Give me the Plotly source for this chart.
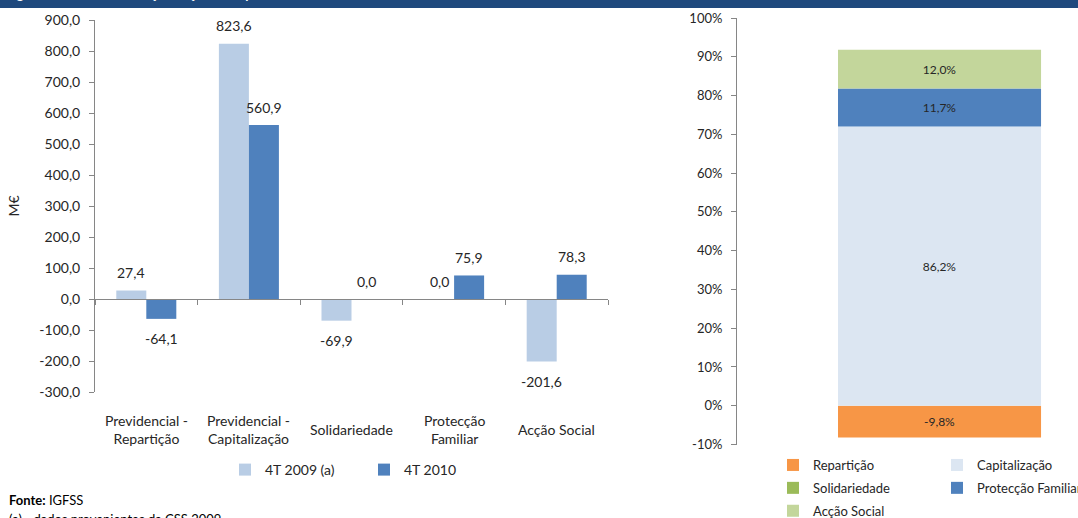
import plotly.graph_objects as go

# ---------------- data ----------------
categories = ["Previdencial - Repartição", "Previdencial - Capitalização",
              "Solidariedade", "Protecção Familiar", "Acção Social"]
category_labels = ["Previdencial -<br>Repartição", "Previdencial -<br>Capitalização",
                   "Solidariedade", "Protecção<br>Familiar", "Acção Social"]
series_names = ["4T 2009 (a)", "4T 2010"]
saldo_4t2009 = [27.4, 823.6, -69.9, 0.0, -201.6]
saldo_4t2010 = [-64.1, 560.9, 0.0, 75.9, 78.3]
left_tickvals = [-300, -200, -100, 0, 100, 200, 300, 400, 500, 600, 700, 800, 900]
left_ticktext = ["-300,0", "-200,0", "-100,0", "0,0", "100,0", "200,0", "300,0",
                 "400,0", "500,0", "600,0", "700,0", "800,0", "900,0"]

struct_names = ["Repartição", "Capitalização", "Solidariedade", "Protecção Familiar", "Acção Social"]
struct_values = [-9.8, 86.2, 0.0, 11.7, 12.0]
struct_colors = ["#F79646", "#DCE6F2", "#9BBB59", "#4F81BD", "#C3D69B"]
struct_legend = ["legend2", "legend3", "legend2", "legend3", "legend2"]
right_tickvals = [-10, 0, 10, 20, 30, 40, 50, 60, 70, 80, 90, 100]
right_ticktext = ["-10%", "0%", "10%", "20%", "30%", "40%", "50%", "60%",
                  "70%", "80%", "90%", "100%"]

FONT = "Lato"
TXT = "#262626"
AX = "#868686"
W, H = 1078, 518


def fmt(v):
    return f"{v:.1f}".replace(".", ",")


fig = go.Figure()

# ---------------- left chart: grouped bars ----------------
for name, vals, col in [(series_names[0], saldo_4t2009, "#B9CDE5"),
                        (series_names[1], saldo_4t2010, "#4F81BD")]:
    fig.add_trace(go.Bar(x=categories, y=vals, name=name, marker_color=col,
                         marker_line_width=0, xaxis="x", yaxis="y",
                         legend="legend", hoverinfo="x+y"))

annotations = []
for vals, xs in [(saldo_4t2009, -15), (saldo_4t2010, 15)]:
    for c, v in zip(categories, vals):
        annotations.append(dict(x=c, y=v, xref="x", yref="y", text=fmt(v),
                                showarrow=False, xshift=xs,
                                yshift=18 if v >= 0 else -20,
                                yanchor="middle",
                                font=dict(family=FONT, size=14, color=TXT)))

for c, lab in zip(categories, category_labels):
    annotations.append(dict(x=c, y=1 - 429 / H, xref="x", yref="paper", text=lab,
                            showarrow=False, yanchor="middle",
                            font=dict(family=FONT, size=14, color=TXT)))

# ---------------- right chart: 100% stacked structure ----------------
total_abs = sum(abs(v) for v in struct_values)
pos_base, neg_base = 0.0, 0.0
for name, v, col, lg in zip(struct_names, struct_values, struct_colors, struct_legend):
    h = v / total_abs * 100
    if h >= 0:
        b = pos_base
        pos_base += h
    else:
        b = neg_base
        neg_base += h
    fig.add_trace(go.Bar(x=[0], y=[h], base=[b], width=[1], offsetgroup="struct",
                         name=name, marker_color=col, marker_line_width=0,
                         text=[fmt(v) + "%" if v != 0 else ""],
                         textposition="inside", insidetextanchor="middle",
                         textangle=0, constraintext="none",
                         textfont=dict(family=FONT, size=12, color=TXT),
                         xaxis="x2", yaxis="y2", legend=lg, legendgroup=name))

# footer / header texts
annotations.append(dict(x=7 / W, y=1 - 500 / H, xref="paper", yref="paper",
                        xanchor="left", yanchor="middle", showarrow=False,
                        text="<b>Fonte:</b> IGFSS",
                        font=dict(family=FONT, size=13, color="#000000")))
annotations.append(dict(x=7 / W, y=1 - 519 / H, xref="paper", yref="paper",
                        xanchor="left", yanchor="middle", showarrow=False,
                        text="(a) - dados provenientes da CSS 2009",
                        font=dict(family=FONT, size=13, color="#000000")))
annotations.append(dict(x=4 / W, y=1 - 4 / H, xref="paper", yref="paper",
                        xanchor="left", yanchor="bottom", showarrow=False,
                        text="<b>Figura 3 - Saldo de Execução Orçamental por Subsistema</b>",
                        font=dict(family=FONT, size=13, color="#FFFFFF")))

fig.update_layout(
    width=W, height=H, autosize=False,
    margin=dict(l=0, r=0, t=0, b=0, pad=0, autoexpand=False),
    paper_bgcolor="white", plot_bgcolor="white",
    font=dict(family=FONT, color=TXT),
    barmode="group", bargap=0.415, bargroupgap=0,
    showlegend=True,
    xaxis=dict(domain=[95 / W, 608 / W], type="category", anchor="free",
               position=1 - 299 / H, range=[-0.5, 4.5],
               showline=True, linecolor=AX, linewidth=1,
               ticks="outside", tickson="boundaries", ticklen=5, tickcolor=AX,
               showticklabels=False, showgrid=False, zeroline=False),
    yaxis=dict(domain=[1 - 392 / H, 1 - 20 / H], range=[-300, 900], anchor="x",
               tickvals=left_tickvals, ticktext=left_ticktext,
               showline=True, linecolor=AX, linewidth=1,
               ticks="outside", ticklen=5, tickcolor=AX, ticklabelstandoff=6,
               showgrid=False, zeroline=False,
               tickfont=dict(family=FONT, size=14, color=TXT),
               title=dict(text="M€", standoff=16,
                          font=dict(family=FONT, size=14, color=TXT))),
    xaxis2=dict(domain=[737 / W, 1.0], range=[-0.9975, 0.682], anchor="y2",
                visible=False, showgrid=False, zeroline=False),
    yaxis2=dict(domain=[1 - 444.5 / H, 1 - 18 / H], range=[-10, 100], anchor="x2",
                tickvals=right_tickvals, ticktext=right_ticktext,
                showline=True, linecolor=AX, linewidth=1,
                ticks="outside", ticklen=5, tickcolor=AX, ticklabelstandoff=6,
                showgrid=False, zeroline=False,
                tickfont=dict(family=FONT, size=13, color=TXT)),
    legend=dict(orientation="h", x=225 / W, y=1 - 470 / H, xanchor="left",
                yanchor="middle", entrywidth=94, entrywidthmode="pixels",
                bgcolor="rgba(0,0,0,0)", font=dict(family=FONT, size=14, color=TXT)),
    legend2=dict(orientation="v", x=773 / W, y=1 - 450 / H, xanchor="left",
                 yanchor="top", tracegroupgap=3,
                 bgcolor="rgba(0,0,0,0)", font=dict(family=FONT, size=13, color=TXT)),
    legend3=dict(orientation="v", x=937 / W, y=1 - 450 / H, xanchor="left",
                 yanchor="top", tracegroupgap=3,
                 bgcolor="rgba(0,0,0,0)", font=dict(family=FONT, size=13, color=TXT)),
    shapes=[dict(type="rect", xref="paper", yref="paper", x0=0, x1=1,
                 y0=1 - 8 / H, y1=1.01, fillcolor="#1F497D", line_width=0,
                 layer="below")],
    annotations=annotations,
)

page_css = ("document.documentElement.style.margin='0';"
            "document.documentElement.style.overflow='hidden';"
            "document.body.style.margin='0';"
            "document.body.style.padding='0';"
            "document.body.style.overflow='hidden';")

fig.write_html("out.html", post_script=page_css,
               config={"displayModeBar": False, "staticPlot": False})
